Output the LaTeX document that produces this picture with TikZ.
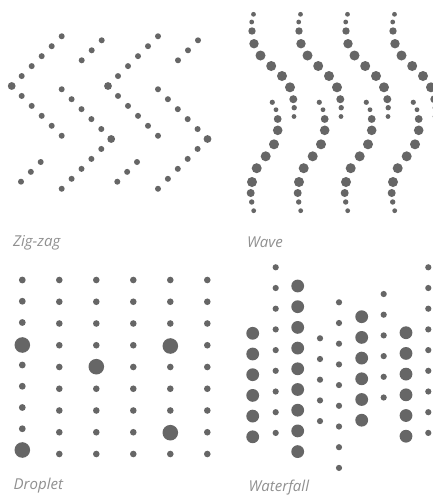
\documentclass[tikz,border=0pt]{standalone}
\usepackage{fontspec}
\newfontfamily\labfont{Open Sans}
\definecolor{dotc}{HTML}{666666}
\definecolor{labc}{HTML}{909090}
\tikzset{lab/.style={anchor=base west, inner sep=0pt, text=labc, font=\labfont\itshape\fontsize{15}{17}\selectfont}}
\begin{document}
\begin{tikzpicture}[x=1pt,y=-1pt]
\useasboundingbox (0,0) rectangle (433,496);
\fill[white] (0,0) rectangle (433,496);
\begin{scope}
\clip (0,0) rectangle (433,496);
% ---------- Zig-zag ----------
\begin{scope}[dotc]
\foreach \ox in {0,96.3} {
  \fill ({11.7+\ox},86) circle (3.9pt);
  \fill ({111.2+\ox},139) circle (3.9pt);
  \foreach \i in {1,...,5} {
    \fill ({11.7+\ox+10*\i},{86-9.95*\i}) circle (3pt);
    \fill ({11.7+\ox+10*\i},{86+9.95*\i}) circle (3pt);
    \fill ({111.2+\ox-9.9*\i},{139-9.95*\i}) circle (3pt);
    \fill ({111.2+\ox-9.9*\i},{139+9.95*\i}) circle (3pt);
  }
  \foreach \i in {0,1,2} {
    \fill ({81.7+\ox+10*\i},{60.3-10*\i}) circle (3pt);
    \fill ({21+\ox+9.85*\i},{181.7-9.85*\i}) circle (3pt);
  }
}
% ---------- Wave ----------
\foreach \ox in {0,47,94,141} {
  \foreach \px/\py/\pr in {253.5/14.3/2.4, 251.7/22/2.4, 252/31/3.7, 254/43.7/4.7, 260.5/55.5/5, 271.2/66/5, 282/76/5, 290/87.3/5, 293.3/99.2/4, 294.2/107.7/2.7, 294/116.5/2.4} {
    \fill ({\px+\ox},\py) circle (\pr pt);
  }
  \foreach \px/\py/\pr in {272.3/102.3/2.6, 276/109.7/2.4, 277.7/119/3.9, 277.7/130.3/4.8, 274/144.3/5, 265.7/156.3/5, 256.7/168.2/5, 252/182/5, 250.7/193/4, 251.7/202/2.7, 253.7/210.7/2.4} {
    \fill ({\px+\ox},\py) circle (\pr pt);
  }
}
% ---------- Droplet ----------
\foreach \py/\pr in {280/3.4, 301.25/3.4, 322.5/3.4, 345/7.8, 365/3.4, 386.25/3.4, 407.5/3.4, 428.75/3.4, 450/7.8} {
  \fill (22.3,\py) circle (\pr pt);
}
\foreach \c in {1,...,5} {
  \foreach \r in {0,...,8} {
    \fill ({22.3+37*\c},{280+21.75*\r}) circle (3.3pt);
  }
}
\fill (96.3,366.7) circle (7.8pt);
\fill (170.3,346) circle (7.8pt);
\fill (170.3,432.7) circle (7.8pt);
% ---------- Waterfall ----------
\foreach \cx/\cy/\cn/\cr in {252.7/333.3/5/6.4, 275.7/267.3/8/3.1, 297.7/286/8/6.4, 320/338.3/4/3.1, 339/302.3/8/3.1, 361.7/316.7/5/6.4, 383.7/294/5/3.1, 406/332.7/5/6.4, 428.3/267.3/8/3.1} {
  \foreach \i in {0,...,\cn} {
    \fill (\cx,{\cy+20.7*\i}) circle (\cr pt);
  }
}
\end{scope}
\end{scope}
% ---------- Labels ----------
\node[lab] (zz) at (13,246) {Zig-zag};
\node[lab] (wv) at (247,247) {Wave};
\node[lab] (dr) at (13.5,489) {Droplet};
\node[lab] (wf) at (248.5,491.5) {Waterfall};
\end{tikzpicture}
\end{document}
